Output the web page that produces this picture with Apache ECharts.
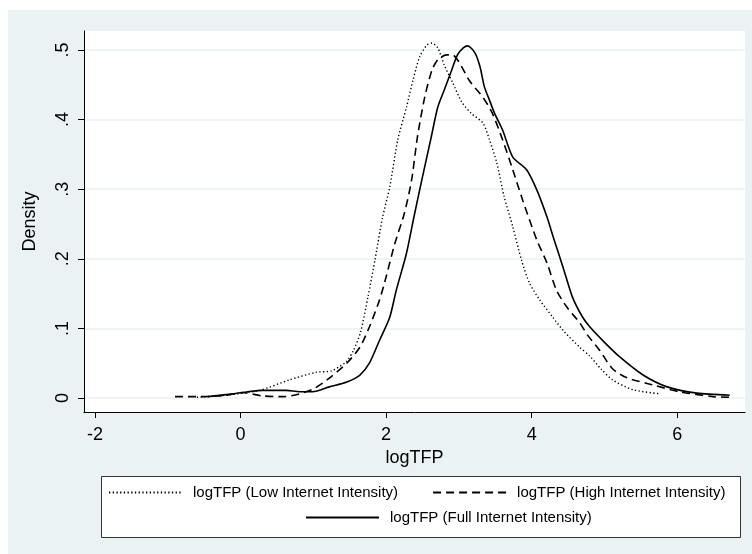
<!DOCTYPE html>
<html>
<head>
<meta charset="utf-8">
<script src="https://cdn.jsdelivr.net/npm/echarts@6/dist/echarts.min.js"></script>
<style>
  html, body { margin: 0; padding: 0; background: #fff; }
  #chart { width: 752px; height: 554px; }
</style>
</head>
<body>
<div id="chart"></div>
<script>
// kernel density of logTFP as [logTFP, density]
const lowIntensity = [
  [-0.6, 0.001], [-0.2, 0.004], [0.26, 0.011], [0.67, 0.026], [1.04, 0.037],
  [1.25, 0.039], [1.45, 0.052], [1.55, 0.068], [1.65, 0.095], [1.75, 0.145],
  [1.85, 0.2], [1.95, 0.259], [2.05, 0.303], [2.16, 0.371], [2.28, 0.418],
  [2.37, 0.457], [2.46, 0.49], [2.56, 0.507], [2.63, 0.51], [2.71, 0.503],
  [2.8, 0.478], [2.91, 0.454], [3.04, 0.425], [3.17, 0.409], [3.33, 0.395],
  [3.42, 0.371], [3.52, 0.338], [3.62, 0.29], [3.74, 0.246], [3.86, 0.198],
  [3.97, 0.165], [4.11, 0.141], [4.29, 0.116], [4.45, 0.095], [4.66, 0.073],
  [4.8, 0.06], [4.95, 0.042], [5.11, 0.026], [5.39, 0.012], [5.76, 0.006]
];
const highIntensity = [
  [-0.9, 0.002], [-0.5, 0.002], [-0.2, 0.004], [0.03, 0.008], [0.3, 0.003],
  [0.6, 0.002], [0.81, 0.006], [1.0, 0.013], [1.2, 0.027], [1.46, 0.05],
  [1.64, 0.073], [1.77, 0.102], [1.91, 0.141], [2.0, 0.174], [2.12, 0.222],
  [2.25, 0.265], [2.35, 0.313], [2.43, 0.375], [2.53, 0.432], [2.63, 0.471],
  [2.71, 0.486], [2.83, 0.493], [2.91, 0.493], [3.0, 0.483], [3.15, 0.455],
  [3.33, 0.432], [3.46, 0.409], [3.6, 0.371], [3.74, 0.328], [3.88, 0.283],
  [4.07, 0.227], [4.21, 0.194], [4.34, 0.155], [4.48, 0.131], [4.66, 0.108],
  [4.77, 0.09], [4.93, 0.069], [5.11, 0.042], [5.31, 0.029], [5.66, 0.019],
  [6.03, 0.009], [6.49, 0.002], [6.72, 0.001]
];
const fullIntensity = [
  [-0.45, 0.002], [-0.1, 0.006], [0.1, 0.009], [0.3, 0.011], [0.63, 0.011],
  [0.81, 0.009], [0.99, 0.009], [1.22, 0.016], [1.46, 0.023], [1.64, 0.033],
  [1.77, 0.05], [1.91, 0.083], [2.05, 0.116], [2.14, 0.155], [2.28, 0.208],
  [2.38, 0.259], [2.49, 0.313], [2.62, 0.375], [2.71, 0.418], [2.8, 0.443],
  [2.9, 0.471], [2.98, 0.493], [3.06, 0.503], [3.12, 0.506], [3.22, 0.496],
  [3.29, 0.476], [3.35, 0.447], [3.42, 0.428], [3.49, 0.409], [3.6, 0.385],
  [3.74, 0.346], [3.93, 0.328], [4.07, 0.299], [4.21, 0.26], [4.3, 0.23],
  [4.43, 0.188], [4.56, 0.145], [4.7, 0.116], [4.8, 0.102], [5.0, 0.08],
  [5.21, 0.059], [5.53, 0.033], [5.86, 0.016], [6.27, 0.007], [6.72, 0.004]
];
const seriesNames = [
  "logTFP (Low Internet Intensity)",
  "logTFP (High Internet Intensity)",
  "logTFP (Full Internet Intensity)"
];
const xTicks = [-2, 0, 2, 4, 6];
const yTicks = [0, 0.1, 0.2, 0.3, 0.4, 0.5];

const font = "Liberation Sans, Arial, sans-serif";
const bg = "#eaf2f3";

const chart = echarts.init(document.getElementById("chart"));

function line(name, data, type, width) {
  return {
    name,
    type: "line",
    data,
    showSymbol: false,
    symbol: "none",
    smooth: 0.25,
    lineStyle: { color: "#000", width, type },
    itemStyle: { color: "#000" },
    animation: false
  };
}

// legend rows: no symbol, only the line sample
const legendBase = {
  padding: 0,
  itemWidth: 73, itemHeight: 14,
  itemStyle: { color: "transparent", borderWidth: 0, opacity: 0 },
  textStyle: { fontFamily: font, fontSize: 15, color: "#000", padding: [0, 0, 0, 6] },
  z: 5
};

chart.setOption({
  backgroundColor: "#fff",
  animation: false,
  graphic: [
    { type: "rect", z: -10, shape: { x: 8, y: 10, width: 744, height: 544 }, style: { fill: bg } },
    { type: "rect", z: 0, shape: { x: 101.5, y: 476.5, width: 639, height: 61 },
      style: { fill: "#fff", stroke: "#333", lineWidth: 1 } }
  ],
  grid: {
    show: true,
    left: 84, right: 7, top: 31, bottom: 142,
    backgroundColor: "#fff",
    borderWidth: 0
  },
  legend: [
    Object.assign({}, legendBase, {
      data: seriesNames.slice(0, 2),
      left: 108, top: 485, itemGap: 34
    }),
    Object.assign({}, legendBase, {
      data: seriesNames.slice(2),
      left: 305, top: 510
    })
  ],
  xAxis: {
    type: "value",
    min: -2.15, max: 6.93,
    name: "logTFP",
    nameLocation: "middle",
    nameGap: 29,
    nameTextStyle: { fontFamily: font, fontSize: 18, color: "#000" },
    axisLine: { onZero: false, lineStyle: { color: "#000", width: 1 } },
    axisTick: { customValues: xTicks, length: 6, lineStyle: { color: "#000" } },
    axisLabel: { customValues: xTicks, fontFamily: font, fontSize: 18, color: "#000", margin: 14 },
    splitLine: { show: false }
  },
  yAxis: {
    type: "value",
    min: -0.0201, max: 0.5273,
    name: "Density",
    nameLocation: "middle",
    nameGap: 45,
    nameRotate: 90,
    nameTextStyle: { fontFamily: font, fontSize: 18, color: "#000" },
    axisLine: { show: true, onZero: false, lineStyle: { color: "#000", width: 1 } },
    axisTick: { show: true, customValues: yTicks, length: 6, lineStyle: { color: "#000" } },
    axisLabel: {
      customValues: yTicks,
      rotate: 90,
      fontFamily: font, fontSize: 18, color: "#000", margin: 12,
      formatter: v => (v === 0 ? "0" : String(v).replace(/^0\./, "."))
    },
    splitLine: { show: true, lineStyle: { color: bg, width: 1.5 } }
  },
  series: [
    line(seriesNames[0], lowIntensity, [1.3, 2.4], 1.4),
    line(seriesNames[1], highIntensity, [8, 5], 1.6),
    line(seriesNames[2], fullIntensity, "solid", 1.6)
  ]
});
</script>
</body>
</html>
